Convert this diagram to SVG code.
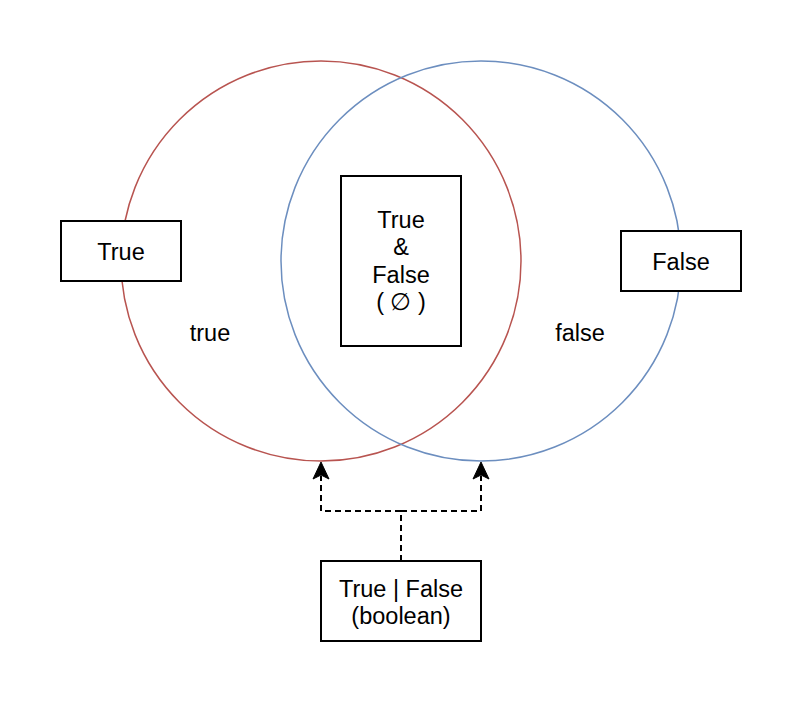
<svg xmlns="http://www.w3.org/2000/svg" width="802" height="702" viewBox="0 0 802 702">
<style>
.box{fill:#ffffff;stroke:#000000;stroke-width:2}
.t{font-family:"Liberation Sans",Arial,sans-serif;font-size:23.5px;fill:#000000;text-anchor:middle}
.c{fill:none;stroke-width:2;stroke-dasharray:6 4;stroke:#000000}
.ah{fill:#000000;stroke:#000000;stroke-width:1}
</style>
<defs>
<path id="head" d="M0,0 L-8,17 L0,13 L8,17 Z"/>
</defs>
<rect width="802" height="702" fill="#ffffff"/>
<g id="circle-true"><circle cx="321" cy="261" r="200" fill="none" stroke="#b85450" stroke-width="1.5"/></g>
<g id="circle-false"><circle cx="481" cy="261" r="200" fill="none" stroke="#6c8ebf" stroke-width="1.5"/></g>
<g id="label-true"><text class="t" x="210" y="341">true</text></g>
<g id="label-false"><text class="t" x="580" y="341">false</text></g>
<g id="node-true"><rect class="box" x="61" y="221" width="120" height="60"/><text class="t" x="121" y="260">True</text></g>
<g id="node-false"><rect class="box" x="621" y="231" width="120" height="60"/><text class="t" x="681" y="270">False</text></g>
<g id="node-both"><rect class="box" x="341" y="176" width="120" height="170"/>
<text class="t" x="401" y="228">True</text>
<text class="t" x="401" y="255">&amp;</text>
<text class="t" x="401" y="283">False</text>
<text class="t" x="401" y="310">( ∅ )</text></g>
<g id="node-boolean"><rect class="box" x="321" y="561" width="160" height="80"/>
<text class="t" x="401" y="597">True | False</text>
<text class="t" x="401" y="624">(boolean)</text></g>
<g id="connectors">
<path class="c" d="M401,561 L401,511 L321,511 L321,476"/>
<path class="c" d="M401,511 L481,511 L481,476"/>
<use href="#head" class="ah" x="321" y="462"/>
<use href="#head" class="ah" x="481" y="462"/>
</g>
</svg>
